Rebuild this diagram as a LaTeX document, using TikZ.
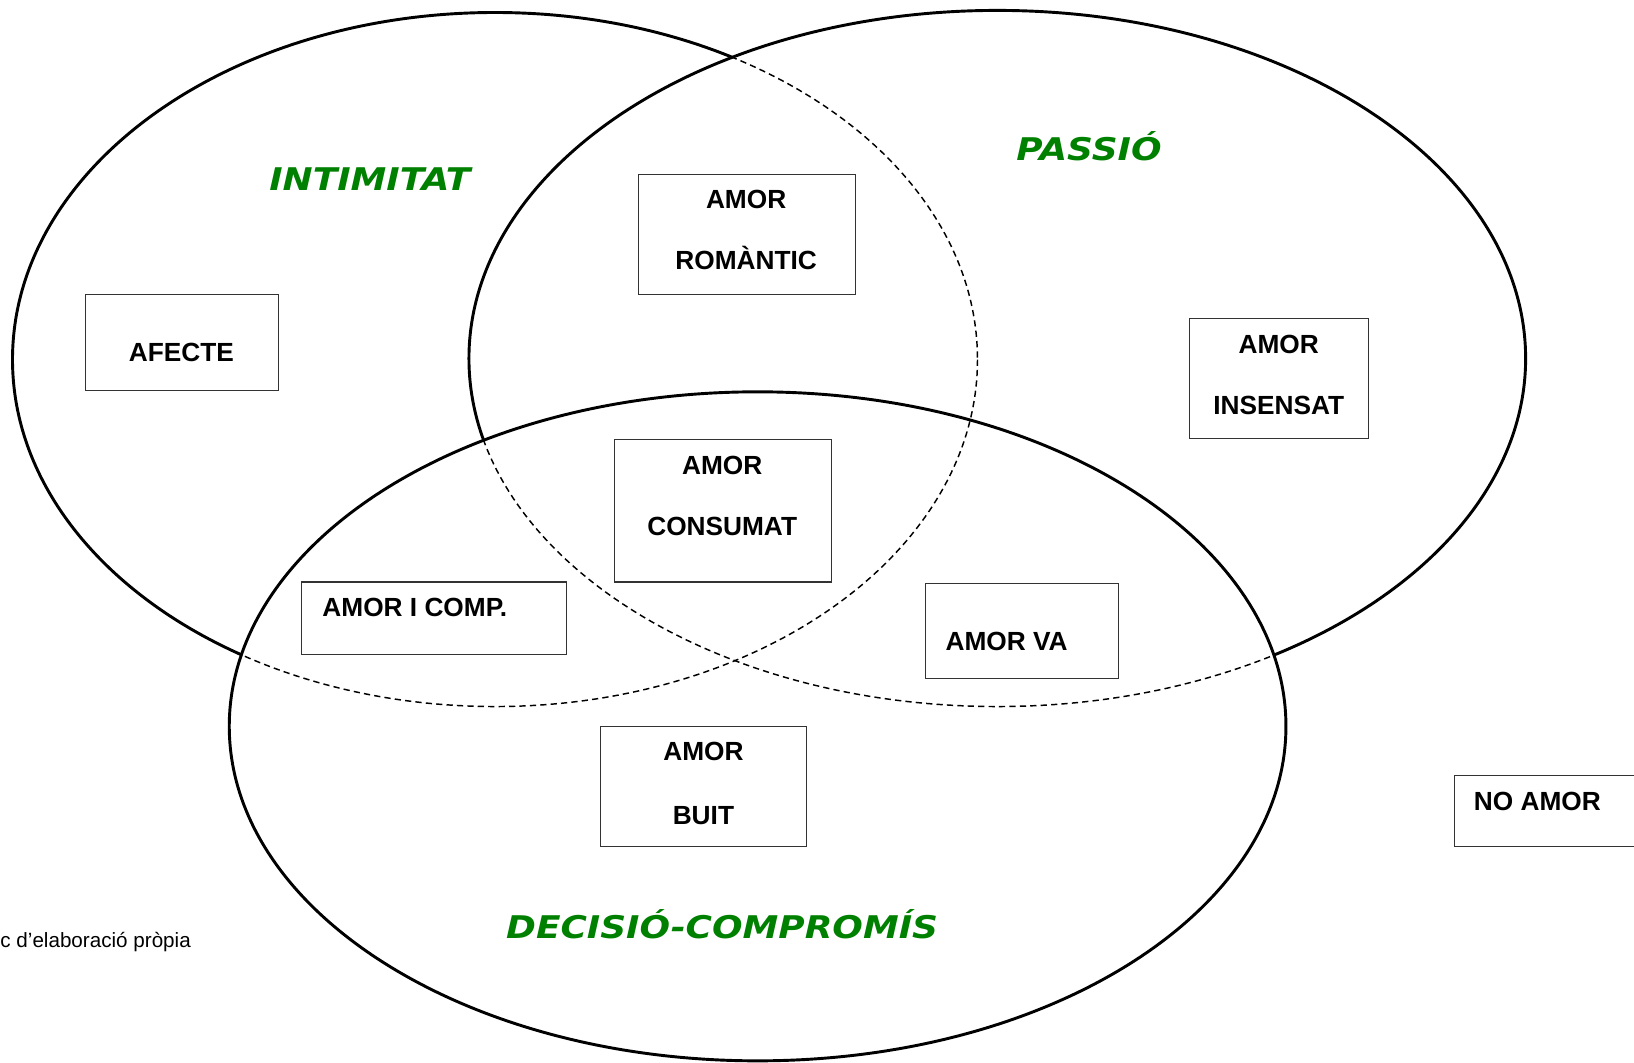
\documentclass[tikz,border=0pt]{standalone}
\usepackage{fontspec}
\setmainfont{Liberation Sans}
\newfontfamily\comicfont[FakeStretch=1.15]{DejaVu Sans}
\usetikzlibrary{positioning}
\tikzset{
    setline/.style={line width=1.4pt},
    insideline/.style={line width=0.7pt, dash pattern=on 3pt off 2pt},
    box/.style={draw=black!80, line width=0.5pt, rectangle, anchor=north west, inner sep=0pt},
    txt/.style={font=\fontsize{12.6}{15}\selectfont\bfseries, text height=9pt, text depth=0pt, inner sep=0pt},
    settitle/.style={text=green!50!black, font=\comicfont\fontsize{15}{18}\selectfont\bfseries\itshape}
}
\def\intimset{(475,345) ellipse (463 and 333)}
\def\passioset{(957,344) ellipse (507 and 334)}
\def\decisioset{(727,697) ellipse (507 and 321)}

\begin{document}
\begin{tikzpicture}[x=0.5pt, y=-0.5pt]
    \clip (0,0) rectangle (1568,1020);

    % intimitat: dashed where it runs inside the other two
    \draw[insideline] \intimset;
    \begin{scope}[even odd rule]
        \clip (-20,-20) rectangle (1600,1050) \passioset;
        \clip (-20,-20) rectangle (1600,1050) \decisioset;
        \draw[setline] \intimset;
    \end{scope}

    % passio
    \draw[insideline] \passioset;
    \begin{scope}[even odd rule]
        \clip (-20,-20) rectangle (1600,1050) \decisioset;
        \draw[setline] \passioset;
    \end{scope}

    % decisio-compromis
    \draw[setline] \decisioset;

    % titles
    \node[settitle] (intimitat) at (355,172) {INTIMITAT};
    \node[settitle] (passio) at (1045,140) {PASSIÓ};
    \node[settitle] (decisio) at (693,887) {DECISIÓ-COMPROMÍS};

    % boxes
    \node[box, minimum width=92.5pt, minimum height=46pt] (afecte) at (82,282) {};
    \node[box, minimum width=104pt, minimum height=57.5pt] (romantic) at (612,167) {};
    \node[box, minimum width=86pt, minimum height=57.5pt] (insensat) at (1141,305) {};
    \node[box, minimum width=104pt, minimum height=68.5pt] (consumat) at (589,421) {};
    \node[box, minimum width=127pt, minimum height=35pt] (icomp) at (289,558) {};
    \node[box, minimum width=92.5pt, minimum height=46pt] (va) at (888,559) {};
    \node[box, minimum width=98.5pt, minimum height=57.5pt] (buit) at (576,697) {};
    \node[box, minimum width=110pt, minimum height=34pt] (noamor) at (1395,744) {};

    % box texts
    \node[txt] (afecteA) at (174,338) {AFECTE};
    \node[txt] (romanticA) at (716,191) {AMOR};
    \node[txt] (romanticB) at (716,250) {ROMÀNTIC};
    \node[txt] (insensatA) at (1227,330) {AMOR};
    \node[txt] (insensatB) at (1227,389) {INSENSAT};
    \node[txt] (consumatA) at (693,446) {AMOR};
    \node[txt] (consumatB) at (693,505) {CONSUMAT};
    \node[txt, anchor=west] (icompA) at (309,583) {AMOR I COMP.};
    \node[txt, anchor=west] (vaA) at (907,615) {AMOR VA};
    \node[txt] (buitA) at (675,721) {AMOR};
    \node[txt] (buitB) at (675,782) {BUIT};
    \node[txt, anchor=west] (noamorA) at (1414,769) {NO AMOR};

    % source note
    \node[font=\fontsize{9.9}{12}\selectfont, anchor=base west, inner sep=0pt] (font) at (0,909) {c d’elaboració pròpia};
\end{tikzpicture}
\end{document}
